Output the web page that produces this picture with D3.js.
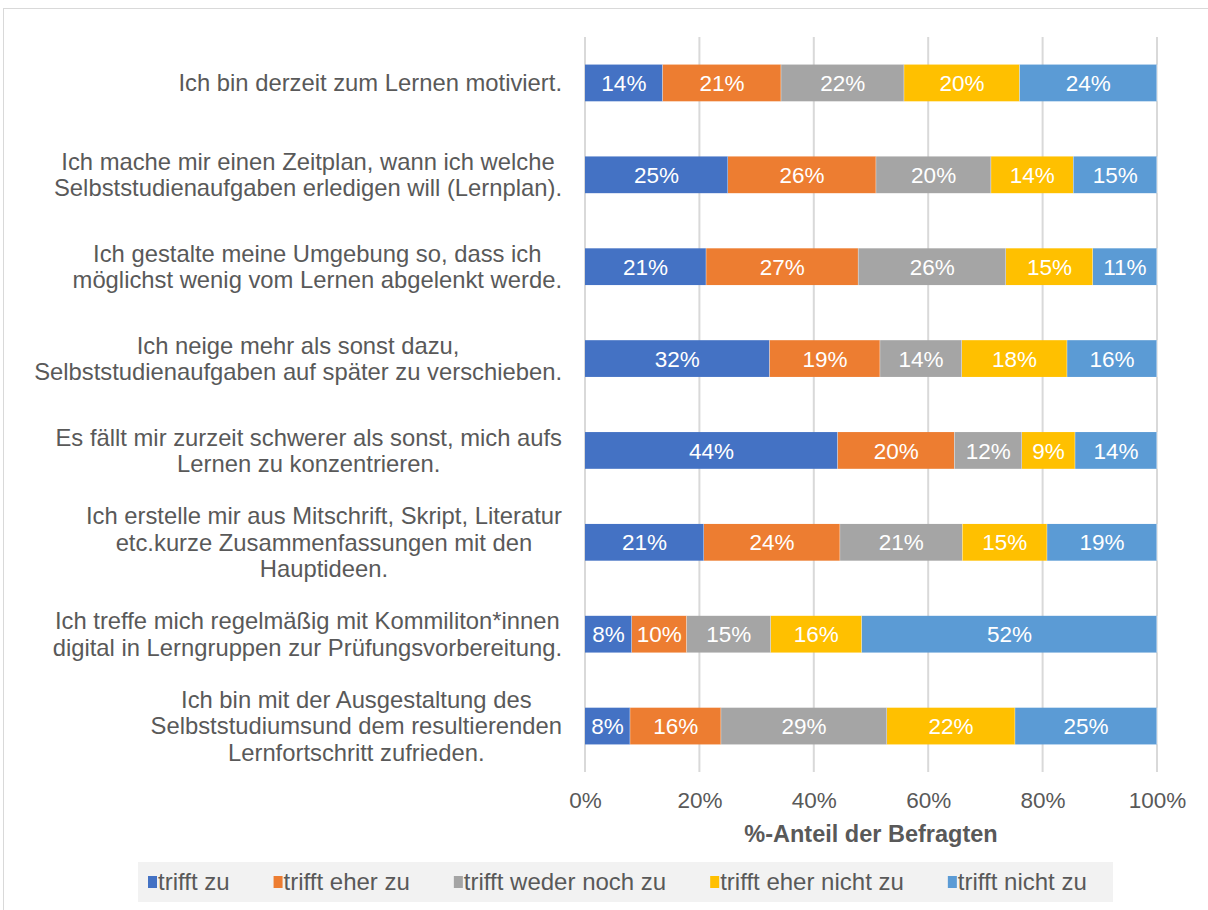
<!DOCTYPE html>
<html>
<head>
<meta charset="utf-8">
<script src="https://cdn.jsdelivr.net/npm/d3@7"></script>
<style>
  body { margin: 0; background: #fff; }
  svg { display: block; font-family: "Liberation Sans", Arial, sans-serif; }
</style>
</head>
<body>
<div id="display"></div>
<script>
// categories (each label already split into its lines)
let categories = [
    ["Ich bin derzeit zum Lernen motiviert."],
    ["Ich mache mir einen Zeitplan, wann ich welche", "Selbststudienaufgaben erledigen will (Lernplan)."],
    ["Ich gestalte meine Umgebung so, dass ich", "möglichst wenig vom Lernen abgelenkt werde."],
    ["Ich neige mehr als sonst dazu,", "Selbststudienaufgaben auf später zu verschieben."],
    ["Es fällt mir zurzeit schwerer als sonst, mich aufs", "Lernen zu konzentrieren."],
    ["Ich erstelle mir aus Mitschrift, Skript, Literatur", "etc.kurze Zusammenfassungen mit den", "Hauptideen."],
    ["Ich treffe mich regelmäßig mit Kommiliton*innen", "digital in Lerngruppen zur Prüfungsvorbereitung."],
    ["Ich bin mit der Ausgestaltung des", "Selbststudiumsund dem resultierenden", "Lernfortschritt zufrieden."]
];

let seriesNames = ["trifft zu", "trifft eher zu", "trifft weder noch zu", "trifft eher nicht zu", "trifft nicht zu"];

// shares per category, in percent
let triffZu          = [13.6, 25.0, 21.2, 32.3, 44.2, 20.8, 8.2, 7.9];
let triffEherZu      = [20.7, 25.9, 26.6, 19.3, 20.4, 23.8, 9.6, 15.9];
let wederNoch        = [21.5, 20.1, 25.8, 14.3, 11.8, 21.4, 14.7, 29.0];
let eherNicht        = [20.2, 14.4, 15.2, 18.4, 9.3, 14.8, 15.9, 22.4];
let nichtZu          = [24.0, 14.6, 11.2, 15.7, 14.3, 19.2, 51.6, 24.8];

let xTicks = [0, 20, 40, 60, 80, 100];
let colors = ["#4472C4", "#ED7D31", "#A5A5A5", "#FFC000", "#5B9BD5"];

let W = 1208, H = 910;
let margin = {top: 37, left: 585, right: 51, bottom: 138};
let width = W - margin.left - margin.right;
let height = H - margin.top - margin.bottom;

let svg = d3.select('#display')
    .append('svg')
        .attr('width', W)
        .attr('height', H);

// outer frame
svg.append('rect')
    .attr('x', 3.5).attr('y', 8.5)
    .attr('width', W).attr('height', H)
    .attr('fill', 'none')
    .attr('stroke', '#d9d9d9');

let g = svg.append('g')
    .attr('transform', 'translate(' + margin.left + ',' + margin.top + ')');

// build table
let series = [triffZu, triffEherZu, wederNoch, eherNicht, nichtZu];
let table = categories.map((c, i) => {
    let row = {idx: i};
    seriesNames.forEach((s, j) => { row[s] = series[j][i]; });
    return row;
});
let stacked = d3.stack().keys(seriesNames)(table);

let x = d3.scaleLinear().domain([0, 100]).range([0, width]);
let y = d3.scaleBand()
    .domain(d3.range(categories.length))
    .range([0, height])
    .paddingInner(0.6)
    .paddingOuter(0.3);

// gridlines
g.append('g')
    .selectAll('line')
    .data(xTicks)
    .enter()
    .append('line')
        .attr('x1', d => x(d)).attr('x2', d => x(d))
        .attr('y1', 0).attr('y2', height)
        .attr('stroke', '#d9d9d9')
        .attr('stroke-width', 2);

// x axis labels
let xAxis = g.append('g')
    .attr('transform', 'translate(0,' + height + ')')
    .call(d3.axisBottom(x).tickValues(xTicks).tickFormat(d => d + '%').tickSize(0).tickPadding(20));
xAxis.select('.domain').remove();
xAxis.selectAll('text')
    .attr('font-size', 22.5)
    .attr('font-family', '"Liberation Sans", Arial, sans-serif')
    .attr('fill', '#595959');

// axis title
g.append('text')
    .attr('x', width / 2)
    .attr('y', height + 70)
    .attr('text-anchor', 'middle')
    .attr('font-size', 23.5)
    .attr('font-weight', 'bold')
    .attr('fill', '#595959')
    .text('%-Anteil der Befragten');

// bars
let layers = g.selectAll('.layer')
    .data(stacked)
    .enter()
    .append('g')
        .attr('class', 'layer')
        .attr('fill', (d, i) => colors[i]);

layers.selectAll('rect')
    .data(d => d)
    .enter()
    .append('rect')
        .attr('x', d => x(d[0]))
        .attr('y', d => y(d.data.idx))
        .attr('width', d => x(d[1]) - x(d[0]))
        .attr('height', y.bandwidth());

// separators between segments (thin white line like Excel)
layers.selectAll('line.sep')
    .data(d => d)
    .enter()
    .append('line')
        .attr('x1', d => x(d[1])).attr('x2', d => x(d[1]))
        .attr('y1', d => y(d.data.idx)).attr('y2', d => y(d.data.idx) + y.bandwidth())
        .attr('stroke', '#fff')
        .attr('stroke-width', 0.8);

// value labels
layers.selectAll('text')
    .data(d => d)
    .enter()
    .append('text')
        .attr('x', d => x((d[0] + d[1]) / 2))
        .attr('y', d => y(d.data.idx) + y.bandwidth() / 2)
        .attr('dy', '0.36em')
        .attr('text-anchor', 'middle')
        .attr('font-size', 22.5)
        .attr('fill', '#fff')
        .text(d => Math.round(d[1] - d[0]) + '%');

// category labels: block right aligned, lines centered within the block
let lineH = 26.5;
categories.forEach((lines, i) => {
    let block = svg.append('g');
    let texts = lines.map((l, k) => block.append('text')
        .attr('y', margin.top + y(i) + y.bandwidth() / 2 + (k - (lines.length - 1) / 2) * lineH)
        .attr('dy', '0.35em')
        .attr('text-anchor', 'middle')
        .attr('font-size', 23.8)
        .attr('fill', '#595959')
        .text(l));
    let maxW = d3.max(texts, t => t.node().getComputedTextLength());
    let cx = margin.left - 23 - maxW / 2;
    texts.forEach(t => t.attr('x', cx));
});

// legend
let legend = svg.append('g');
let legY = 882;
legend.append('rect')
    .attr('class', 'legbg')
    .attr('y', legY - 20)
    .attr('height', 40)
    .attr('fill', '#f2f2f2');
let items = legend.selectAll('g.item')
    .data(seriesNames)
    .enter()
    .append('g')
        .attr('class', 'item');
items.append('rect')
    .attr('width', 9).attr('height', 12)
    .attr('y', legY - 6)
    .attr('fill', (d, i) => colors[i]);
items.append('text')
    .attr('x', 10)
    .attr('y', legY)
    .attr('dy', '0.35em')
    .attr('font-size', 24)
    .attr('fill', '#595959')
    .text(d => d);
let gap = 44, pos = 0, offsets = [];
items.each(function () {
    offsets.push(pos);
    pos += 10 + d3.select(this).select('text').node().getComputedTextLength() + gap;
});
let startX = 148;
items.attr('transform', (d, i) => 'translate(' + (startX + offsets[i]) + ',0)');
legend.select('.legbg')
    .attr('x', 138)
    .attr('width', 975);
</script>
</body>
</html>
